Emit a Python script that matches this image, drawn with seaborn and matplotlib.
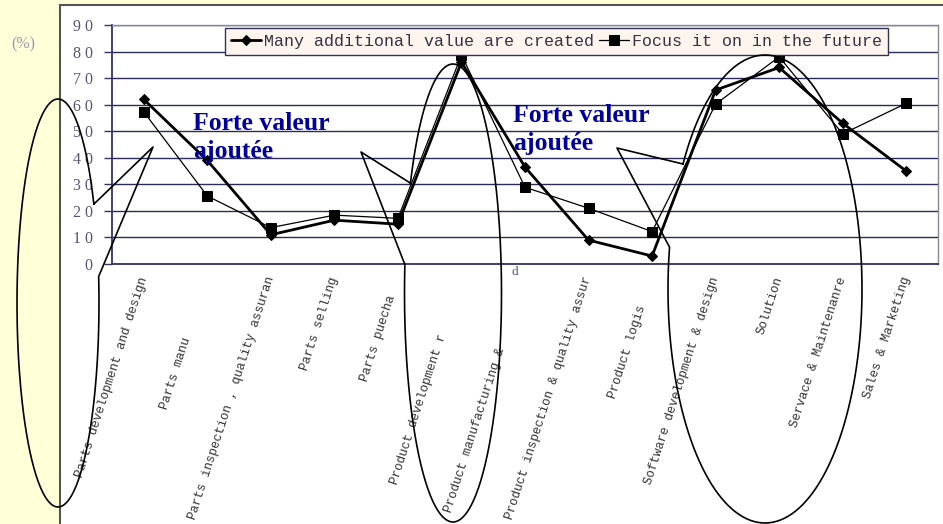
import numpy as np
import pandas as pd
import seaborn as sns
import matplotlib.pyplot as plt
from matplotlib.patches import Rectangle
from matplotlib.transforms import ScaledTranslation, blended_transform_factory

# ---- data ----
categories = ["Parts development and design", "Parts manu",
              "Parts inspection , quality assuran", "Parts selling",
              "Parts puecha", "Product development r",
              "Product manufacturing &", "Product inspection & quality assur",
              "Product logis", "Software development & design", "Solution",
              "Servace & Maintenanre", "Sales & Marketing"]
created = [62, 39, 11, 16.5, 15, 76, 36.5, 9, 3, 65.5, 74, 53, 35]
future = [57.3, 25.6, 13.7, 18.4, 17.2, 78.7, 28.9, 21, 12.2, 60.2, 78, 49, 60.5]
name_created = "Many additional value are created"
name_future = "Focus it on in the future"
yticks = list(range(0, 100, 10))
ytick_labels = [" ".join(str(v)) for v in yticks]

# px each tick label is pushed down along its slant (hidden tail in original)
label_shift = [0, 64, 0, 0, 20, 60, 75, 0, 30, 0, 0, 0, 0]

# callouts in figure pixels: centre x, centre y, width, height, p1, tip, p2
callouts = [
    (58, 303, 82, 408, (95, 201), (153, 147), (101, 275)),
    (453, 293, 97, 458, (410, 182), (361, 152), (404, 264)),
    (765, 289, 194, 468, (683, 164), (617, 148), (669, 247)),
]

W, H = 943, 524
sns.set_style("white")
plt.rcParams['font.family'] = ['Liberation Mono', 'DejaVu Sans']

fig = plt.figure(figsize=(W / 100, H / 100), dpi=100)
fig.patch.set_facecolor('#FFFFD8')
fig.add_artist(Rectangle((60 / W, -0.1), 1.2, 1.1 - 5 / H, transform=fig.transFigure,
                         facecolor='white', edgecolor='#555555', lw=1.5, zorder=0))

ax = fig.add_axes([112 / W, (H - 264) / H, 826 / W, 239 / H])
ax.set_facecolor('white')

df = pd.DataFrame({"x": np.arange(len(categories)), "created": created, "future": future})
sns.lineplot(data=df, x="x", y="future", ax=ax, color='black', lw=0.9,
             marker='s', markersize=6.5, markeredgecolor='black', label=name_future, zorder=3)
sns.lineplot(data=df, x="x", y="created", ax=ax, color='black', lw=2.0,
             marker='D', markersize=5, markeredgecolor='black', label=name_created, zorder=4)

ax.set_xlim(-0.5, len(categories) - 0.5)
ax.set_ylim(0, 90)
ax.set_yticks(yticks)
ax.set_yticklabels(ytick_labels, family='Liberation Serif', fontsize=11.5, color='#55557a')
ax.set_xticks(np.arange(0.5, len(categories) - 1, 1))
ax.set_xticklabels([])
ax.tick_params(axis='x', direction='in', length=4, color='#333366', width=1)
ax.tick_params(axis='y', direction='out', length=6, color='#333366', width=1, pad=8, left=True)
ax.set_xlabel('')
ax.set_ylabel('')
ax.grid(axis='y', color='#2b2b5a', lw=1)
ax.set_axisbelow(True)
for s in ['left', 'bottom']:
    ax.spines[s].set_color('#333366')
    ax.spines[s].set_linewidth(1.3)
for s in ['top', 'right']:
    ax.spines[s].set_color('#888899')
    ax.spines[s].set_linewidth(1)

# slanted category labels
base = blended_transform_factory(ax.transData, ax.transAxes)
ang = np.deg2rad(72)
for i, lab in enumerate(categories):
    dx = 0 - np.cos(ang) * label_shift[i]
    dy = -13 - np.sin(ang) * label_shift[i]
    tr = base + ScaledTranslation(dx / 100, dy / 100, fig.dpi_scale_trans)
    ax.text(i, 0, lab, transform=tr, rotation=72, rotation_mode='anchor',
            ha='right', va='center', fontsize=9, color='#333333', clip_on=False)

handles, labels = ax.get_legend_handles_labels()
order = [labels.index(name_created), labels.index(name_future)]
leg = ax.legend([handles[k] for k in order], [labels[k] for k in order],
                loc='upper left', bbox_to_anchor=(225 / W, 1 - 28 / H),
                bbox_transform=fig.transFigure, ncol=2, frameon=True, fancybox=False,
                fontsize=12, handlelength=1.8, handletextpad=0.2, columnspacing=0.3,
                borderpad=0.35, borderaxespad=0, labelcolor='#333344')
leg.get_frame().set_facecolor('#FDF5EE')
leg.get_frame().set_edgecolor('#333355')
leg.get_frame().set_linewidth(1)
leg.get_frame().set_alpha(1)
leg.set_zorder(10)

# overlay in pixel coordinates for annotations
ov = fig.add_axes([0, 0, 1, 1], zorder=20)
ov.set_xlim(0, W)
ov.set_ylim(H, 0)
ov.axis('off')
ov.patch.set_alpha(0)

for cx, cy, w, h, p1, tip, p2 in callouts:
    a1 = np.arctan2((p1[1] - cy) / (h / 2), (p1[0] - cx) / (w / 2))
    a2 = np.arctan2((p2[1] - cy) / (h / 2), (p2[0] - cx) / (w / 2))
    d = (a2 - a1) % (2 * np.pi)
    if d < np.pi:
        ts = np.linspace(a1, a2 - 2 * np.pi, 300)
    else:
        ts = np.linspace(a1, a1 + d, 300)
    xs = list(cx + w / 2 * np.cos(ts)) + [tip[0], cx + w / 2 * np.cos(a1)]
    ys = list(cy + h / 2 * np.sin(ts)) + [tip[1], cy + h / 2 * np.sin(a1)]
    ov.plot(xs, ys, color='black', lw=1.2)

for x0, y0 in [(193, 112), (513, 104)]:
    ov.text(x0, y0, "Forte valeur\najoutée", family='Liberation Serif', fontweight='bold',
            fontsize=18.5, color='#0000A0', ha='left', va='top', linespacing=1.3)

ov.text(23, 44, "(%)", family='Liberation Serif', fontsize=11.5, color='#9a9ab0',
        ha='center', va='center')
ov.text(515, 272, "d", family='Liberation Serif', fontsize=9.5, color='#55557a',
        ha='center', va='center')

fig.savefig('out.png', dpi=100, facecolor=fig.get_facecolor())
